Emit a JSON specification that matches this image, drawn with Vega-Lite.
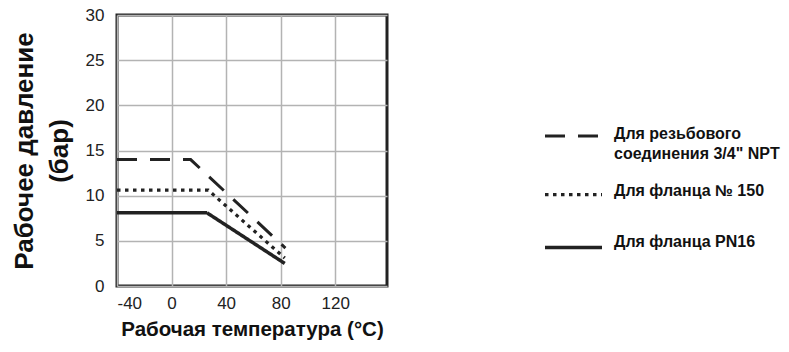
{
  "$schema": "https://vega.github.io/schema/vega-lite/v6.json",
  "width": 270,
  "height": 271,
  "autosize": "none",
  "padding": {"left": 117, "top": 15, "right": 402, "bottom": 66},
  "background": "white",
  "config": {
    "font": "Liberation Sans",
    "view": {"stroke": "#222222", "strokeWidth": 3},
    "axis": {
      "domain": false,
      "ticks": false,
      "grid": true,
      "gridColor": "#b3b3b3",
      "gridWidth": 1.5,
      "labelFont": "Liberation Sans",
      "labelFontSize": 17,
      "labelColor": "#222222",
      "titleFont": "Liberation Sans",
      "titleFontWeight": "bold",
      "titleColor": "#111111"
    },
    "legend": {
      "orient": "none",
      "legendX": 426,
      "legendY": 91,
      "padding": 0,
      "symbolType": "stroke",
      "symbolSize": 3249,
      "symbolStrokeColor": "#222222",
      "labelFont": "Liberation Sans",
      "labelFontSize": 16,
      "labelFontWeight": "bold",
      "labelColor": "#111111",
      "labelOffset": 10,
      "rowPadding": 2,
      "labelLimit": 300
    }
  },
  "data": {
    "values": [
      {"series": "A", "temp": -40, "pressure": 14},
      {"series": "A", "temp": 14, "pressure": 14},
      {"series": "A", "temp": 83.5, "pressure": 4.2},
      {"series": "B", "temp": -40, "pressure": 10.6},
      {"series": "B", "temp": 27, "pressure": 10.6},
      {"series": "B", "temp": 83, "pressure": 3.1},
      {"series": "C", "temp": -40, "pressure": 8.1},
      {"series": "C", "temp": 26, "pressure": 8.1},
      {"series": "C", "temp": 83, "pressure": 2.5}
    ]
  },
  "mark": {"type": "line", "color": "#222222", "clip": true},
  "encoding": {
    "x": {
      "field": "temp",
      "type": "quantitative",
      "scale": {"domain": [-40, 158], "nice": false, "zero": false},
      "axis": {
        "values": [-40, 0, 40, 80, 120],
        "labelExpr": "'' + datum.value",
        "title": "Рабочая температура (°C)",
        "titleFontSize": 20.5,
        "labelPadding": 9,
        "titlePadding": 8
      }
    },
    "y": {
      "field": "pressure",
      "type": "quantitative",
      "scale": {"domain": [0, 30], "nice": false},
      "axis": {
        "values": [0, 5, 10, 15, 20, 25, 30],
        "title": ["Рабочее давление", "(бар)"],
        "titleFontSize": 26,
        "titleLineHeight": 35,
        "labelPadding": 13,
        "titlePadding": 13
      }
    },
    "strokeDash": {
      "field": "series",
      "type": "nominal",
      "scale": {"domain": ["A", "B", "C"], "range": [[20, 13], [3.5, 4.5], [1, 0]]},
      "legend": {
        "title": null,
        "labelExpr": "datum.label == 'A' ? ['Для резьбового', 'соединения 3/4\" NPT'] : datum.label == 'B' ? ['Для фланца № 150', ''] : 'Для фланца PN16'",
        "encode": {"labels": {"update": {
          "dy": {"signal": "datum.value == 'A' ? -2 : datum.value == 'B' ? -4 : -6"},
          "lineHeight": {"signal": "datum.value == 'B' ? 16 : 20"}
        }}}
      }
    },
    "strokeWidth": {
      "field": "series",
      "type": "nominal",
      "scale": {"domain": ["A", "B", "C"], "range": [3, 3.5, 2]},
      "legend": {
        "title": null,
        "labelExpr": "datum.label == 'A' ? ['Для резьбового', 'соединения 3/4\" NPT'] : datum.label == 'B' ? ['Для фланца № 150', ''] : 'Для фланца PN16'",
        "encode": {"labels": {"update": {
          "dy": {"signal": "datum.value == 'A' ? -2 : datum.value == 'B' ? -4 : -6"},
          "lineHeight": {"signal": "datum.value == 'B' ? 16 : 20"}
        }}}
      }
    }
  }
}
